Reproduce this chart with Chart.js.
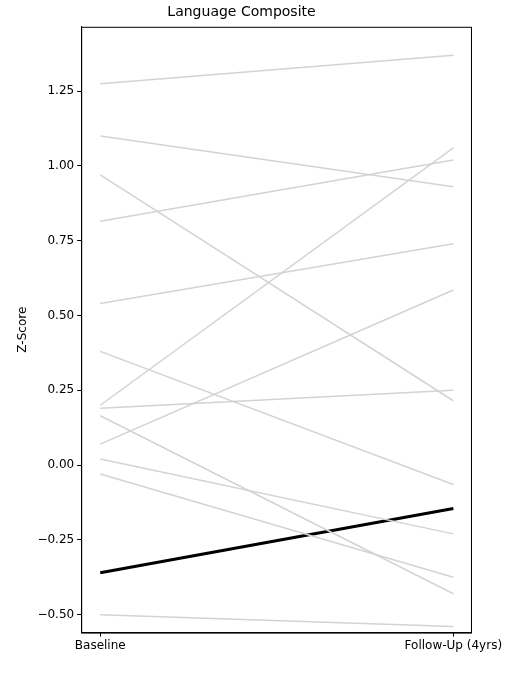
<!DOCTYPE html>
<html>
<head>
<script src="https://cdn.jsdelivr.net/npm/chart.js@4"></script>
<style>
  body { margin: 0; background: #fff; }
  #wrap { width: 517px; height: 682px; }
</style>
</head>
<body>
<div id="wrap"><canvas id="chart"></canvas></div>
<script>
const categories = ['Baseline', 'Follow-Up (4yrs)'];
const baselineScores = [1.275, 1.10, 0.97, 0.815, 0.54, 0.38, 0.20, 0.19, 0.07, 0.165, 0.02, -0.03, -0.50];
const followUpScores = [1.37, 0.93, 0.215, 1.02, 0.74, -0.065, 1.06, 0.25, 0.585, -0.43, -0.23, -0.375, -0.54];
const meanScores = [-0.36, -0.145];
const yTicks = [-0.5, -0.25, 0, 0.25, 0.5, 0.75, 1.0, 1.25];

const datasets = baselineScores.map((b, i) => ({
    data: [{ x: 0, y: b }, { x: 1, y: followUpScores[i] }],
    borderColor: '#d3d3d3',
    borderWidth: 1.5,
    pointRadius: 0
}));
datasets.push({
    data: [{ x: 0, y: meanScores[0] }, { x: 1, y: meanScores[1] }],
    borderColor: '#000',
    borderWidth: 3,
    pointRadius: 0
});

// matplotlib-style box around the plot area
const frame = {
    id: 'frame',
    afterDraw(chart) {
        const { ctx, chartArea: a } = chart;
        ctx.save();
        ctx.strokeStyle = '#000';
        ctx.lineWidth = 1;
        ctx.strokeRect(a.left + 0.5, a.top + 0.5, a.right - a.left, a.bottom - a.top);
        ctx.restore();
    }
};

const tickGrid = { drawOnChartArea: false, drawTicks: true, tickLength: 4, color: '#000' };

new Chart(document.getElementById('chart'), {
    type: 'line',
    data: { datasets: datasets },
    plugins: [frame],
    options: {
        responsive: true,
        maintainAspectRatio: false,
        animation: false,
        layout: { padding: { left: 12, right: 46, top: 0, bottom: 27 } },
        scales: {
            x: {
                type: 'linear',
                min: -0.054,
                max: 1.05,
                grid: tickGrid,
                border: { color: '#000' },
                afterBuildTicks: axis => { axis.ticks = [{ value: 0 }, { value: 1 }]; },
                ticks: {
                    color: '#000',
                    padding: 2,
                    font: { family: 'DejaVu Sans', size: 12 },
                    callback: v => categories[v]
                }
            },
            y: {
                min: -0.56,
                max: 1.465,
                grid: tickGrid,
                border: { color: '#000' },
                afterBuildTicks: axis => { axis.ticks = yTicks.map(v => ({ value: v })); },
                ticks: {
                    color: '#000',
                    font: { family: 'DejaVu Sans', size: 12 },
                    callback: v => v.toFixed(2).replace('-', '\u2212')
                },
                title: {
                    display: true,
                    text: 'Z-Score',
                    color: '#000',
                    font: { family: 'DejaVu Sans', size: 12 }
                }
            }
        },
        plugins: {
            legend: { display: false },
            tooltip: { enabled: false },
            title: {
                display: true,
                text: 'Language Composite',
                color: '#000',
                font: { family: 'DejaVu Sans', size: 14, weight: 'normal' },
                padding: { top: 4, bottom: 6 }
            }
        }
    }
});
</script>
</body>
</html>
